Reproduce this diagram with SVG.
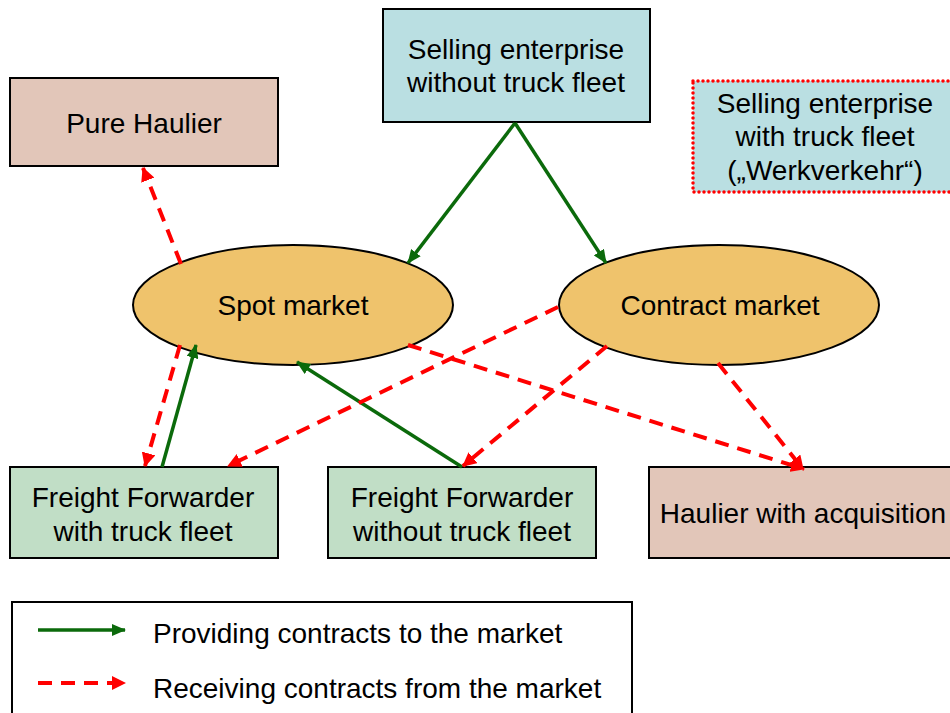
<svg xmlns="http://www.w3.org/2000/svg" width="950" height="713" viewBox="0 0 950 713">
  <style>
    text { font-family: "Liberation Sans", Arial, sans-serif; font-size: 28px; fill: #000; text-anchor: middle; }
    .box { stroke: #000; stroke-width: 2; }
    .haulier { fill: #E2C6B9; }
    .seller { fill: #BADFE2; }
    .forwarder { fill: #C1DEC6; }
    .market { fill: #EFC36C; stroke: #000; stroke-width: 2; }
    .provide { stroke: #0B6A0B; stroke-width: 3.5; fill: none; marker-end: url(#arrowGreen); }
    .receive { stroke: #FF0000; stroke-width: 4; fill: none; stroke-dasharray: 14 9; marker-end: url(#arrowRed); }
    .legend-text { text-anchor: start; }
  </style>
  <defs>
    <marker id="arrowGreen" markerUnits="userSpaceOnUse" markerWidth="14" markerHeight="12" refX="13" refY="6" orient="auto">
      <path d="M0,0 L14,6 L0,12 Z" fill="#0B6A0B"/>
    </marker>
    <marker id="arrowRed" markerUnits="userSpaceOnUse" markerWidth="14" markerHeight="14" refX="13" refY="7" orient="auto">
      <path d="M0,0 L14,7 L0,14 Z" fill="#FF0000"/>
    </marker>
  </defs>

  <rect width="950" height="713" fill="#fff"/>

  <g id="pure-haulier">
    <rect class="box haulier" x="10" y="78" width="268" height="88"/>
    <text x="144" y="133">Pure Haulier</text>
  </g>

  <g id="seller-no-fleet">
    <rect class="box seller" x="383" y="9" width="267" height="113"/>
    <text x="516" y="59">Selling enterprise</text>
    <text x="516" y="92">without truck fleet</text>
  </g>

  <g id="seller-with-fleet">
    <rect class="seller" x="693" y="81" width="270" height="111" stroke="#FF0000" stroke-width="3.5" stroke-linecap="round" stroke-dasharray="0 5"/>
    <text x="825" y="113">Selling enterprise</text>
    <text x="825" y="146">with truck fleet</text>
    <text x="825" y="180">(„Werkverkehr“)</text>
  </g>

  <g id="spot-market">
    <ellipse class="market" cx="293" cy="305" rx="160" ry="60"/>
    <text x="293" y="315">Spot market</text>
  </g>

  <g id="contract-market">
    <ellipse class="market" cx="719" cy="305" rx="160" ry="60"/>
    <text x="720" y="315">Contract market</text>
  </g>

  <g id="forwarder-with-fleet">
    <rect class="box forwarder" x="10" y="467" width="268" height="91"/>
    <text x="143" y="507">Freight Forwarder</text>
    <text x="143" y="541">with truck fleet</text>
  </g>

  <g id="forwarder-no-fleet">
    <rect class="box forwarder" x="328" y="467" width="268" height="91"/>
    <text x="462" y="507">Freight Forwarder</text>
    <text x="462" y="541">without truck fleet</text>
  </g>

  <g id="haulier-acquisition">
    <rect class="box haulier" x="649" y="467" width="320" height="91"/>
    <text x="803" y="523">Haulier with acquisition</text>
  </g>

  <g id="connectors">
    <!-- contracts provided to the markets -->
    <line class="provide" x1="515" y1="123" x2="408" y2="263"/>
    <line class="provide" x1="515" y1="123" x2="606" y2="263"/>
    <line class="provide" x1="162" y1="467" x2="196" y2="345"/>
    <line class="provide" x1="462" y1="467" x2="297" y2="362"/>
    <!-- contracts received from the markets -->
    <line class="receive" x1="181" y1="264" x2="143" y2="168"/>
    <line class="receive" x1="180" y1="345" x2="145" y2="466"/>
    <line class="receive" x1="558" y1="307" x2="228" y2="466"/>
    <line class="receive" x1="607" y1="346" x2="463" y2="466"/>
    <line class="receive" x1="408" y1="345" x2="804" y2="469"/>
    <line class="receive" x1="718" y1="363" x2="803" y2="469"/>
  </g>

  <g id="legend">
    <rect x="12" y="602" width="620" height="130" fill="#fff" stroke="#000" stroke-width="2"/>
    <line class="provide" x1="38" y1="630" x2="125" y2="630"/>
    <line class="receive" x1="38" y1="683" x2="125" y2="683"/>
    <text class="legend-text" x="153" y="643">Providing contracts to the market</text>
    <text class="legend-text" x="153" y="698">Receiving contracts from the market</text>
  </g>
</svg>
